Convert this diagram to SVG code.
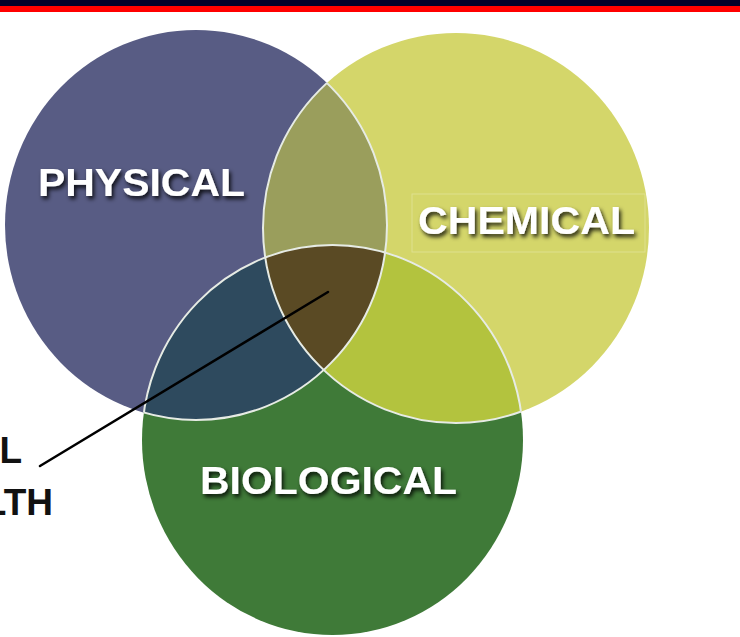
<svg xmlns="http://www.w3.org/2000/svg" width="740" height="637" viewBox="0 0 740 637">
  <defs>
    <style>
      .edge { fill: none; stroke: #e6ebe4; stroke-width: 2; }
      .label { font-family: "Liberation Sans", Arial, sans-serif; font-weight: bold; font-size: 38px; fill: #ffffff; filter: url(#shadow); }
      .side { font-family: "Liberation Sans", Arial, sans-serif; font-weight: bold; font-size: 37px; fill: #111111; text-anchor: end; }
    </style>
    <filter id="shadow" x="-10%" y="-40%" width="125%" height="190%">
      <feDropShadow dx="2" dy="3" stdDeviation="2.2" flood-color="#000000" flood-opacity="0.85"/>
    </filter>
    <clipPath id="clipPhysical"><ellipse cx="196" cy="225" rx="191" ry="195"/></clipPath>
    <clipPath id="clipChemical"><ellipse cx="456" cy="228" rx="193" ry="195"/></clipPath>
    <clipPath id="clipBiological"><ellipse cx="332.5" cy="440" rx="190.5" ry="195"/></clipPath>
    <!-- unions of the other two circles, so outlines show only where circles overlap -->
    <clipPath id="notPhysical">
      <ellipse cx="456" cy="228" rx="193" ry="195"/>
      <ellipse cx="332.5" cy="440" rx="190.5" ry="195"/>
    </clipPath>
    <clipPath id="notChemical">
      <ellipse cx="196" cy="225" rx="191" ry="195"/>
      <ellipse cx="332.5" cy="440" rx="190.5" ry="195"/>
    </clipPath>
    <clipPath id="notBiological">
      <ellipse cx="196" cy="225" rx="191" ry="195"/>
      <ellipse cx="456" cy="228" rx="193" ry="195"/>
    </clipPath>
  </defs>

  <!-- header band -->
  <rect x="0" y="0" width="740" height="6" fill="#00002a"/>
  <rect x="0" y="6" width="740" height="6" fill="#ff0000"/>

  <!-- base circles -->
  <g id="physical">
    <ellipse cx="196" cy="225" rx="191" ry="195" fill="#585c84"/>
  </g>
  <g id="chemical">
    <ellipse cx="456" cy="228" rx="193" ry="195" fill="#d4d66a"/>
  </g>
  <g id="biological">
    <ellipse cx="332.5" cy="440" rx="190.5" ry="195" fill="#3f7a38"/>
  </g>

  <!-- overlaps -->
  <g id="physical-chemical" clip-path="url(#clipPhysical)">
    <ellipse cx="456" cy="228" rx="193" ry="195" fill="#9a9e5c"/>
  </g>
  <g id="physical-biological" clip-path="url(#clipPhysical)">
    <ellipse cx="332.5" cy="440" rx="190.5" ry="195" fill="#2e4a5e"/>
  </g>
  <g id="chemical-biological" clip-path="url(#clipChemical)">
    <ellipse cx="332.5" cy="440" rx="190.5" ry="195" fill="#b3c33e"/>
  </g>
  <g id="center" clip-path="url(#clipPhysical)">
    <g clip-path="url(#clipChemical)">
      <ellipse cx="332.5" cy="440" rx="190.5" ry="195" fill="#5a4a24"/>
    </g>
  </g>

  <!-- circle outlines inside the overlaps -->
  <g id="outlines">
    <ellipse class="edge" clip-path="url(#notPhysical)" cx="196" cy="225" rx="191" ry="195"/>
    <ellipse class="edge" clip-path="url(#notChemical)" cx="456" cy="228" rx="193" ry="195"/>
    <ellipse class="edge" clip-path="url(#notBiological)" cx="332.5" cy="440" rx="190.5" ry="195"/>
  </g>

  <!-- labels -->
  <g id="label-physical">
    <text class="label" x="38" y="196" textLength="207" lengthAdjust="spacingAndGlyphs">PHYSICAL</text>
  </g>
  <g id="label-chemical">
    <rect x="412" y="194" width="233" height="58" fill="none" stroke="#ffffff" stroke-opacity="0.25" stroke-width="1"/>
    <text class="label" x="418" y="234" textLength="217" lengthAdjust="spacingAndGlyphs">CHEMICAL</text>
  </g>
  <g id="label-biological">
    <text class="label" x="200" y="494" textLength="257" lengthAdjust="spacingAndGlyphs">BIOLOGICAL</text>
  </g>

  <!-- side caption, running off the left edge -->
  <g id="caption">
    <text class="side" x="22" y="463">L</text>
    <text class="side" x="53" y="515">LTH</text>
  </g>

  <!-- connectors -->
  <g id="connectors">
    <line x1="328" y1="292" x2="40" y2="466" stroke="#000000" stroke-width="2.5" stroke-linecap="round"/>
  </g>
</svg>
